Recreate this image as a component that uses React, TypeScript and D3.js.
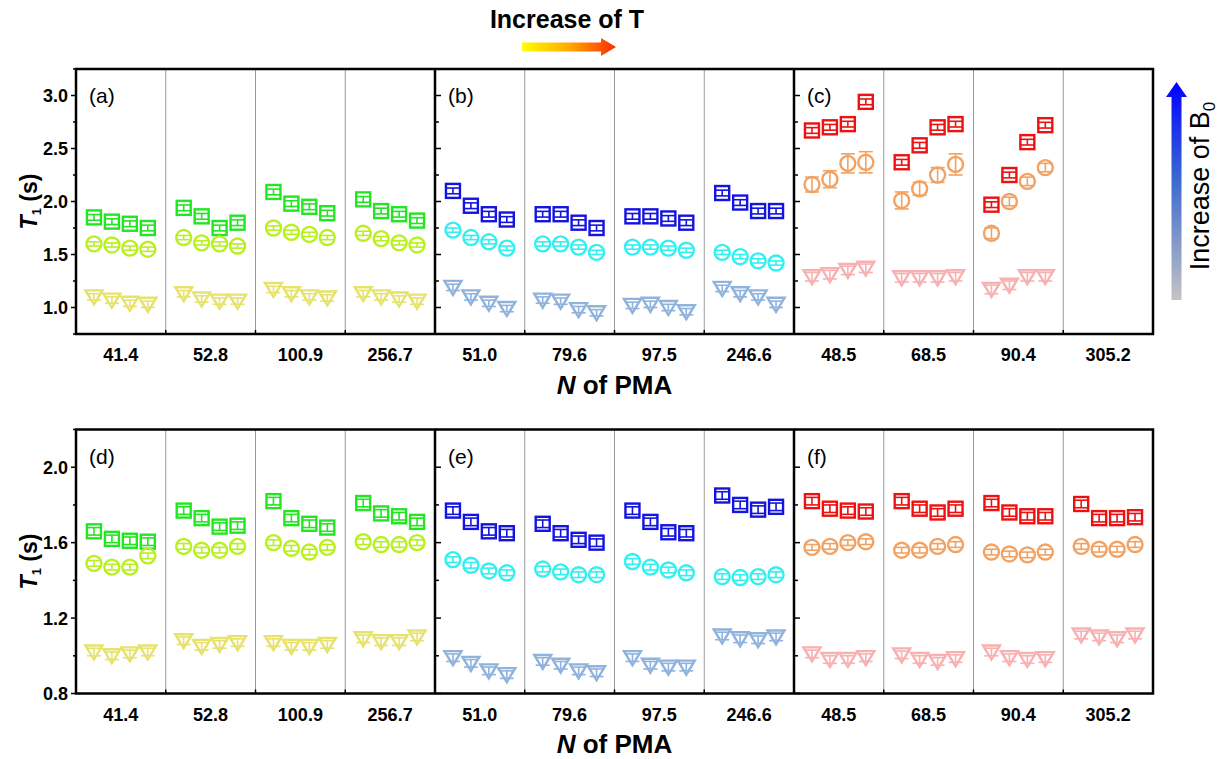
import React from "react";
import * as d3 from "d3";

const W = 1219;
const H = 759;
const FONT = "'Liberation Sans', Arial, sans-serif";

// x categories (N of PMA), 4 per panel
const groupLabels = ["41.4", "52.8", "100.9", "256.7", "51.0", "79.6", "97.5", "246.6", "48.5", "68.5", "90.4", "305.2"];
const panelTags = ["(a)", "(b)", "(c)", "(d)", "(e)", "(f)"];

// top row: T1 (s)
const aSquare = [1.85, 1.81, 1.79, 1.75, 1.94, 1.86, 1.75, 1.8, 2.09, 1.98, 1.95, 1.89, 2.02, 1.91, 1.88, 1.82];
const aCircle = [1.6, 1.59, 1.56, 1.55, 1.66, 1.61, 1.6, 1.58, 1.75, 1.71, 1.69, 1.66, 1.7, 1.65, 1.61, 1.59];
const aTriangle = [1.1, 1.07, 1.04, 1.03, 1.13, 1.08, 1.06, 1.06, 1.17, 1.13, 1.1, 1.09, 1.13, 1.1, 1.08, 1.06];

const bSquare = [2.1, 1.96, 1.88, 1.83, 1.88, 1.88, 1.8, 1.75, 1.86, 1.86, 1.84, 1.8, 2.08, 1.99, 1.91, 1.91];
const bCircle = [1.73, 1.66, 1.62, 1.56, 1.6, 1.6, 1.57, 1.52, 1.57, 1.57, 1.56, 1.54, 1.52, 1.48, 1.44, 1.42];
const bTriangle = [1.19, 1.1, 1.04, 0.99, 1.07, 1.06, 0.98, 0.95, 1.02, 1.03, 1.0, 0.96, 1.18, 1.13, 1.1, 1.03];

// panel (c) has no data for 305.2
const cSquare = [2.67, 2.7, 2.73, 2.94, 2.37, 2.53, 2.7, 2.73, 1.97, 2.25, 2.56, 2.72];
const cCircle = [2.16, 2.21, 2.36, 2.37, 2.01, 2.12, 2.25, 2.35, 1.7, 2.0, 2.19, 2.32];
const cTriangle = [1.29, 1.31, 1.35, 1.37, 1.28, 1.28, 1.28, 1.29, 1.17, 1.21, 1.29, 1.29];
const cCircleErr = [0.07, 0.08, 0.09, 0.1, 0.08, 0.06, 0.07, 0.1, 0.05, 0.04, 0.04, 0.04];

// bottom row
const dSquare = [1.66, 1.62, 1.61, 1.605, 1.77, 1.73, 1.685, 1.69, 1.82, 1.73, 1.7, 1.68, 1.81, 1.755, 1.74, 1.71];
const dCircle = [1.49, 1.47, 1.47, 1.53, 1.58, 1.56, 1.56, 1.58, 1.6, 1.57, 1.55, 1.575, 1.605, 1.59, 1.59, 1.6];
const dTriangle = [1.02, 1.0, 1.01, 1.02, 1.08, 1.05, 1.06, 1.07, 1.07, 1.05, 1.05, 1.06, 1.09, 1.075, 1.075, 1.1];

const eSquare = [1.77, 1.71, 1.66, 1.65, 1.7, 1.65, 1.615, 1.6, 1.77, 1.71, 1.655, 1.65, 1.85, 1.8, 1.775, 1.79];
const eCircle = [1.51, 1.48, 1.45, 1.44, 1.46, 1.445, 1.43, 1.43, 1.5, 1.47, 1.455, 1.44, 1.42, 1.415, 1.42, 1.43];
const eTriangle = [0.99, 0.96, 0.92, 0.9, 0.97, 0.95, 0.92, 0.91, 0.99, 0.95, 0.94, 0.94, 1.105, 1.09, 1.085, 1.1];

const fSquare = [1.82, 1.78, 1.77, 1.765, 1.82, 1.78, 1.76, 1.78, 1.81, 1.76, 1.74, 1.74, 1.805, 1.73, 1.73, 1.735];
const fCircle = [1.575, 1.58, 1.6, 1.605, 1.56, 1.56, 1.58, 1.59, 1.55, 1.54, 1.535, 1.55, 1.58, 1.565, 1.565, 1.59];
const fTriangle = [1.01, 0.98, 0.98, 0.99, 1.005, 0.98, 0.97, 0.985, 1.02, 0.99, 0.98, 0.985, 1.11, 1.1, 1.09, 1.11];

const panelColors = [
  ["#22e622", "#b8f020", "#e6e26c"],
  ["#1414e0", "#33f0f0", "#8fb3dd"],
  ["#ee1111", "#f2a262", "#f8b0b0"],
];

const shapes = ["square", "circle", "triangle"];

const rows = [
  {
    top: 69,
    bottom: 334,
    domain: [0.75, 3.25],
    majors: [1.0, 1.5, 2.0, 2.5, 3.0],
    minors: [0.75, 1.25, 1.75, 2.25, 2.75, 3.25],
    err: [0.027, 0.02, 0.03],
    series: [
      [aSquare, aCircle, aTriangle],
      [bSquare, bCircle, bTriangle],
      [cSquare, cCircle, cTriangle],
    ],
    tags: panelTags.slice(0, 3),
    xTitleY: 394,
  },
  {
    top: 429.5,
    bottom: 693.5,
    domain: [0.8, 2.2],
    majors: [0.8, 1.2, 1.6, 2.0],
    minors: [1.0, 1.4, 1.8, 2.2],
    err: [0.02, 0.015, 0.02],
    series: [
      [dSquare, dCircle, dTriangle],
      [eSquare, eCircle, eTriangle],
      [fSquare, fCircle, fTriangle],
    ],
    tags: panelTags.slice(3, 6),
    xTitleY: 753,
  },
];

const x = d3.scaleLinear().domain([0, 60]).range([76, 1153]);
const fmt = d3.format(".1f");

function Marker({ shape, cx, cy, color }) {
  if (shape === "square") {
    return <rect x={cx - 7} y={cy - 7} width={14} height={14} fill="none" stroke={color} strokeWidth={2.4} />;
  }
  if (shape === "circle") {
    return <circle cx={cx} cy={cy} r={7.5} fill="none" stroke={color} strokeWidth={2.4} />;
  }
  const p = d3.path();
  p.moveTo(cx - 8.5, cy - 6.5);
  p.lineTo(cx + 8.5, cy - 6.5);
  p.lineTo(cx, cy + 7.5);
  p.closePath();
  return <path d={p.toString()} fill="none" stroke={color} strokeWidth={2.4} strokeLinejoin="miter" />;
}

function Row({ row, rowIndex }) {
  const y = d3.scaleLinear().domain(row.domain).range([row.bottom, row.top]);
  const boundaries = d3.range(5, 60, 5);
  return (
    <g>
      {/* thin group separators */}
      {boundaries
        .filter((b) => b % 20 !== 0)
        .map((b) => (
          <g key={"sep" + b}>
            <line x1={x(b)} x2={x(b)} y1={row.top} y2={row.bottom} stroke="#9a9a9a" strokeWidth={1} />
            <line x1={x(b)} x2={x(b)} y1={row.bottom} y2={row.bottom - 4} stroke="#000" strokeWidth={1.5} />
          </g>
        ))}
      {/* data */}
      {row.series.map((panel, pi) =>
        panel.map((vals, si) =>
          vals.map((v, k) => {
            const g = pi * 4 + Math.floor(k / 4);
            const cx = x(g * 5 + (k % 4) + 1);
            const e = rowIndex === 0 && pi === 2 && si === 1 ? cCircleErr[k] : rowIndex === 0 && pi === 2 && si === 2 ? 0.04 : row.err[si];
            const color = panelColors[pi][si];
            const y1 = y(v + e);
            const y2 = y(v - e);
            return (
              <g key={`${pi}-${si}-${k}`}>
                <Marker shape={shapes[si]} cx={cx} cy={y(v)} color={color} />
                <line x1={cx} x2={cx} y1={y1} y2={y2} stroke={color} strokeWidth={1.6} />
                <line x1={cx - 7} x2={cx + 7} y1={y1} y2={y1} stroke={color} strokeWidth={1.6} />
                <line x1={cx - 7} x2={cx + 7} y1={y2} y2={y2} stroke={color} strokeWidth={1.6} />
              </g>
            );
          })
        )
      )}
      {/* frame and panel dividers */}
      <rect x={x(0)} y={row.top} width={x(60) - x(0)} height={row.bottom - row.top} fill="none" stroke="#000" strokeWidth={2.5} />
      {[20, 40].map((b) => (
        <line key={"div" + b} x1={x(b)} x2={x(b)} y1={row.top} y2={row.bottom} stroke="#000" strokeWidth={2.5} />
      ))}
      {/* left axis ticks, outward */}
      {row.majors.map((t) => (
        <g key={"maj" + t}>
          <line x1={x(0) - 5} x2={x(0)} y1={y(t)} y2={y(t)} stroke="#000" strokeWidth={1.5} />
          <text x={x(0) - 8} y={y(t)} dy="0.36em" textAnchor="end" fontFamily={FONT} fontWeight="bold" fontSize={18}>
            {fmt(t)}
          </text>
        </g>
      ))}
      {row.minors.map((t) => (
        <line key={"min" + t} x1={x(0) - 3} x2={x(0)} y1={y(t)} y2={y(t)} stroke="#000" strokeWidth={1.5} />
      ))}
      {/* inner ticks on panel dividers */}
      {[20, 40].map((b) => (
        <g key={"dt" + b}>
          {row.majors.map((t) => (
            <line key={"dm" + t} x1={x(b)} x2={x(b) + 6} y1={y(t)} y2={y(t)} stroke="#000" strokeWidth={1.5} />
          ))}
          {row.minors.map((t) => (
            <line key={"dn" + t} x1={x(b)} x2={x(b) + 4} y1={y(t)} y2={y(t)} stroke="#000" strokeWidth={1.5} />
          ))}
        </g>
      ))}
      {/* panel tags */}
      {row.tags.map((tag, i) => (
        <text key={tag} x={x(i * 20) + 13} y={row.top + 34} fontFamily={FONT} fontSize={21}>
          {tag}
        </text>
      ))}
      {/* category labels */}
      {groupLabels.map((lab, g) => (
        <text key={"gl" + g} x={x(g * 5 + 2.5)} y={row.bottom + 27} textAnchor="middle" fontFamily={FONT} fontWeight="bold" fontSize={18}>
          {lab}
        </text>
      ))}
      {/* axis titles */}
      <text transform={`translate(37,${(row.top + row.bottom) / 2}) rotate(-90)`} textAnchor="middle" fontFamily={FONT} fontWeight="bold" fontSize={23}>
        <tspan fontStyle="italic">T</tspan>
        <tspan fontSize={13} dy={4}>1</tspan>
        <tspan dy={-4}> (s)</tspan>
      </text>
      <text x={(x(0) + x(60)) / 2} y={row.xTitleY} textAnchor="middle" fontFamily={FONT} fontWeight="bold" fontSize={26}>
        <tspan fontStyle="italic">N</tspan> of PMA
      </text>
    </g>
  );
}

export default function App() {
  return (
    <svg width={W} height={H} style={{ position: "absolute", left: 0, top: 0, background: "#fff" }}>
      <defs>
        <linearGradient id="gradT" x1="0" x2="1" y1="0" y2="0">
          <stop offset="0" stopColor="#ffff00" />
          <stop offset="0.5" stopColor="#ffaa00" />
          <stop offset="1" stopColor="#ff2a00" />
        </linearGradient>
        <linearGradient id="gradB" x1="0" x2="0" y1="1" y2="0">
          <stop offset="0" stopColor="#c4c4c4" />
          <stop offset="0.55" stopColor="#3c6ad0" />
          <stop offset="1" stopColor="#0000ff" />
        </linearGradient>
      </defs>
      <rect width={W} height={H} fill="#fff" />

      {/* Increase of T */}
      <text x={567} y={28} textAnchor="middle" fontFamily={FONT} fontWeight="bold" fontSize={25}>
        Increase of T
      </text>
      <path d="M522,42.5 L601,42.5 L601,38 L616,47 L601,56 L601,51.5 L522,51.5 Z" fill="url(#gradT)" />

      {/* Increase of B0 */}
      <path d="M1171.5,300 L1171.5,97 L1166,97 L1176.5,82 L1187,97 L1181.5,97 L1181.5,300 Z" fill="url(#gradB)" />
      <text transform="translate(1209,186) rotate(-90)" textAnchor="middle" fontFamily={FONT} fontSize={27}>
        Increase of B<tspan fontSize={17} dy={6}>0</tspan>
      </text>

      {rows.map((row, i) => (
        <Row key={i} row={row} rowIndex={i} />
      ))}
    </svg>
  );
}
